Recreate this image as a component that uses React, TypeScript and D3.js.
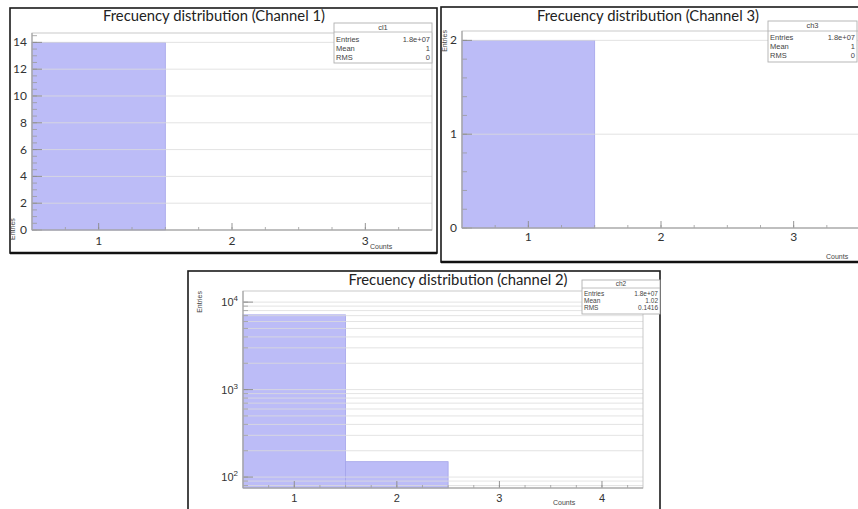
import { useEffect, useRef } from "react";
import * as d3 from "d3";

// ---- data ----
const statLabels = ["Entries", "Mean", "RMS"];

const ch1Bins = [1, 2, 3];
const ch1Counts = [14, 0, 0];
const ch1Stats = ["1.8e+07", "1", "0"];
const ch1YTicks = [0, 2, 4, 6, 8, 10, 12, 14];

const ch3Bins = [1, 2, 3];
const ch3Counts = [2, 0, 0];
const ch3Stats = ["1.8e+07", "1", "0"];
const ch3YTicks = [0, 1, 2];

const ch2Bins = [1, 2, 3, 4];
const ch2Counts = [7150, 150, 0, 0];
const ch2Stats = ["1.8e+07", "1.02", "0.1416"];
const ch2YTicks = [100, 1000, 10000];

const xTicks3 = [1, 2, 3];
const xTicks4 = [1, 2, 3, 4];

const titleFont = "Lato, 'Open Sans', sans-serif";
const statFont = "'Liberation Sans', Arial, sans-serif";
const barFill = "#bcbcf7";
const barStroke = "#a4a4ea";
const gridColor = "#dcdcdc";

const panels = [
  {
    name: "cl1", title: "Frecuency distribution (Channel 1)",
    bins: ch1Bins, counts: ch1Counts, stats: ch1Stats, yTicks: ch1YTicks, xTicks: xTicks3,
    log: false, yDomain: [0, 14.7], xDomain: [0.5, 3.5], yMinor: 0.5, xMinor: 0.25,
    frame: { x: 10, y: 8, w: 427, h: 245 },
    plot: { x: 32, y: 33, w: 400, h: 197 },
    titleX: 214, titleY: 21,
    box: { x: 334, y: 23, w: 98, h: 40, head: 30, sep: 32, rows: [42, 51, 60], fs: 7.5 },
    yTitle: { x: 15, y: 240, anchor: "start" }, xTitle: { x: 370, y: 249 },
    tickFont: titleFont, tickSize: 12, xLabelY: 245,
  },
  {
    name: "ch3", title: "Frecuency distribution (Channel 3)",
    bins: ch3Bins, counts: ch3Counts, stats: ch3Stats, yTicks: ch3YTicks, xTicks: xTicks3,
    log: false, yDomain: [0, 2.1], xDomain: [0.5, 3.5], yMinor: 0.2, xMinor: 0.25,
    frame: { x: 441, y: 7, w: 440, h: 255 },
    plot: { x: 462, y: 31, w: 398, h: 197 },
    titleX: 648, titleY: 21,
    box: { x: 768, y: 21, w: 89, h: 41, head: 28, sep: 31, rows: [40, 49, 58], fs: 7.5 },
    yTitle: { x: 447, y: 30, anchor: "end" }, xTitle: { x: 826, y: 259 },
    tickFont: titleFont, tickSize: 12, xLabelY: 241,
  },
  {
    name: "ch2", title: "Frecuency distribution (channel 2)",
    bins: ch2Bins, counts: ch2Counts, stats: ch2Stats, yTicks: ch2YTicks, xTicks: xTicks4,
    log: true, yDomain: [75, 13400], xDomain: [0.5, 4.4], yMinor: 0, xMinor: 0.25,
    frame: { x: 188, y: 271, w: 472, h: 250 },
    plot: { x: 243, y: 291, w: 400, h: 197 },
    titleX: 458, titleY: 285,
    box: { x: 582, y: 280, w: 78, h: 34, head: 286, sep: 288, rows: [296, 303, 310], fs: 6.5 },
    yTitle: { x: 202, y: 291, anchor: "end" }, xTitle: { x: 553, y: 505 },
    tickFont: statFont, tickSize: 11, xLabelY: 502,
  },
];

function drawPanel(svg, p) {
  const g = svg.append("g");
  const { plot } = p;

  // frame
  g.append("rect")
    .attr("x", p.frame.x).attr("y", p.frame.y)
    .attr("width", p.frame.w).attr("height", p.frame.h)
    .attr("fill", "#fff").attr("stroke", "#1a1a1a").attr("stroke-width", 1.6);
  g.append("line")
    .attr("x1", p.frame.x).attr("x2", p.frame.x + p.frame.w)
    .attr("y1", p.frame.y + p.frame.h).attr("y2", p.frame.y + p.frame.h)
    .attr("stroke", "#111").attr("stroke-width", 2.6);

  const x = d3.scaleLinear().domain(p.xDomain).range([plot.x, plot.x + plot.w]);
  const y = (p.log ? d3.scaleLog() : d3.scaleLinear())
    .domain(p.yDomain).range([plot.y + plot.h, plot.y]);
  const yBase = plot.y + plot.h;

  // bars
  g.selectAll("rect.bar")
    .data(p.bins.map((b, i) => ({ b, v: p.counts[i] })).filter(d => d.v > 0))
    .enter()
    .append("rect")
    .attr("class", "bar")
    .attr("x", d => x(d.b - 0.5))
    .attr("width", d => x(d.b + 0.5) - x(d.b - 0.5))
    .attr("y", d => y(d.v))
    .attr("height", d => yBase - y(d.v))
    .attr("fill", barFill).attr("stroke", barStroke).attr("stroke-width", 0.8);

  // grid + y ticks
  let gridVals;
  let minorVals;
  if (p.log) {
    gridVals = [];
    for (let dec = 10; dec < 100000; dec *= 10) {
      for (let k = 1; k <= 9; k++) {
        const v = dec * k;
        if (v >= p.yDomain[0] && v <= p.yDomain[1]) gridVals.push(v);
      }
    }
    minorVals = gridVals;
  } else {
    gridVals = p.yTicks.filter(v => v > 0);
    minorVals = d3.range(0, p.yDomain[1], p.yMinor);
  }
  g.selectAll("line.grid")
    .data(gridVals)
    .enter()
    .append("line")
    .attr("x1", plot.x).attr("x2", plot.x + plot.w)
    .attr("y1", d => y(d)).attr("y2", d => y(d))
    .attr("stroke", gridColor).attr("stroke-width", 0.8);

  g.selectAll("line.ymin")
    .data(minorVals)
    .enter()
    .append("line")
    .attr("x1", plot.x).attr("x2", plot.x + 5)
    .attr("y1", d => y(d)).attr("y2", d => y(d))
    .attr("stroke", "#9a9a9a").attr("stroke-width", 0.8);
  g.selectAll("line.ymaj")
    .data(p.yTicks)
    .enter()
    .append("line")
    .attr("x1", plot.x).attr("x2", plot.x + 10)
    .attr("y1", d => y(d)).attr("y2", d => y(d))
    .attr("stroke", "#8a8a8a").attr("stroke-width", 0.9);

  // x ticks
  const xMinorVals = d3.range(p.xDomain[0] + p.xMinor, p.xDomain[1], p.xMinor);
  g.selectAll("line.xmin")
    .data(xMinorVals)
    .enter()
    .append("line")
    .attr("x1", d => x(d)).attr("x2", d => x(d))
    .attr("y1", yBase).attr("y2", yBase - 3)
    .attr("stroke", "#9a9a9a").attr("stroke-width", 0.8);
  g.selectAll("line.xmaj")
    .data(p.xTicks)
    .enter()
    .append("line")
    .attr("x1", d => x(d)).attr("x2", d => x(d))
    .attr("y1", yBase).attr("y2", yBase - 7)
    .attr("stroke", "#8a8a8a").attr("stroke-width", 0.9);

  // plot box
  g.append("rect")
    .attr("x", plot.x).attr("y", plot.y)
    .attr("width", plot.w).attr("height", plot.h)
    .attr("fill", "none").attr("stroke", "#c4c4c4").attr("stroke-width", 0.9);
  g.append("line")
    .attr("x1", plot.x).attr("x2", plot.x + plot.w)
    .attr("y1", yBase).attr("y2", yBase)
    .attr("stroke", "#9a9a9a").attr("stroke-width", 1);
  g.append("line")
    .attr("x1", plot.x).attr("x2", plot.x)
    .attr("y1", plot.y).attr("y2", yBase)
    .attr("stroke", "#9a9a9a").attr("stroke-width", 1);

  // tick labels
  const yLab = g.selectAll("text.ylab")
    .data(p.yTicks)
    .enter()
    .append("text")
    .attr("x", plot.x - 5)
    .attr("y", d => y(d) + 4)
    .attr("text-anchor", "end")
    .attr("font-family", p.tickFont)
    .attr("font-size", p.tickSize)
    .attr("fill", "#333");
  if (p.log) {
    yLab.text("10").append("tspan")
      .attr("dy", -5).attr("font-size", 8)
      .text(d => String(Math.round(Math.log10(d))));
  } else {
    yLab.text(d => d);
  }

  g.selectAll("text.xlab")
    .data(p.xTicks)
    .enter()
    .append("text")
    .attr("x", d => x(d))
    .attr("y", p.xLabelY)
    .attr("text-anchor", "middle")
    .attr("font-family", p.tickFont)
    .attr("font-size", p.tickSize)
    .attr("fill", "#333")
    .text(d => d);

  // axis titles
  g.append("text")
    .attr("transform", `translate(${p.yTitle.x},${p.yTitle.y}) rotate(-90)`)
    .attr("text-anchor", p.yTitle.anchor)
    .attr("font-family", statFont)
    .attr("font-size", 7)
    .attr("fill", "#444")
    .text("Entries");
  g.append("text")
    .attr("x", p.xTitle.x).attr("y", p.xTitle.y)
    .attr("font-family", statFont)
    .attr("font-size", 7)
    .attr("fill", "#444")
    .text("Counts");

  // title
  g.append("text")
    .attr("x", p.titleX).attr("y", p.titleY)
    .attr("text-anchor", "middle")
    .attr("font-family", titleFont)
    .attr("font-size", 14.8)
    .attr("fill", "#222")
    .text(p.title);

  // stats box
  const b = p.box;
  g.append("rect")
    .attr("x", b.x).attr("y", b.y).attr("width", b.w).attr("height", b.h)
    .attr("fill", "#fff").attr("stroke", "#b0b0b0").attr("stroke-width", 0.9);
  g.append("line")
    .attr("x1", b.x).attr("x2", b.x + b.w).attr("y1", b.sep).attr("y2", b.sep)
    .attr("stroke", "#b0b0b0").attr("stroke-width", 0.8);
  g.append("text")
    .attr("x", b.x + b.w / 2).attr("y", b.head)
    .attr("text-anchor", "middle")
    .attr("font-family", statFont).attr("font-size", b.fs).attr("fill", "#444")
    .text(p.name);
  statLabels.forEach((lab, i) => {
    g.append("text")
      .attr("x", b.x + 2).attr("y", b.rows[i])
      .attr("font-family", statFont).attr("font-size", b.fs).attr("fill", "#444")
      .text(lab);
    g.append("text")
      .attr("x", b.x + b.w - 2).attr("y", b.rows[i])
      .attr("text-anchor", "end")
      .attr("font-family", statFont).attr("font-size", b.fs).attr("fill", "#444")
      .text(p.stats[i]);
  });
}

export default function App() {
  const ref = useRef(null);

  useEffect(() => {
    document.body.style.margin = "0";
    const svg = d3.select(ref.current);
    svg.selectAll("*").remove();
    panels.forEach(p => drawPanel(svg, p));
  }, []);

  return (
    <svg ref={ref} width={858} height={509} style={{ display: "block", background: "#fff" }} />
  );
}
